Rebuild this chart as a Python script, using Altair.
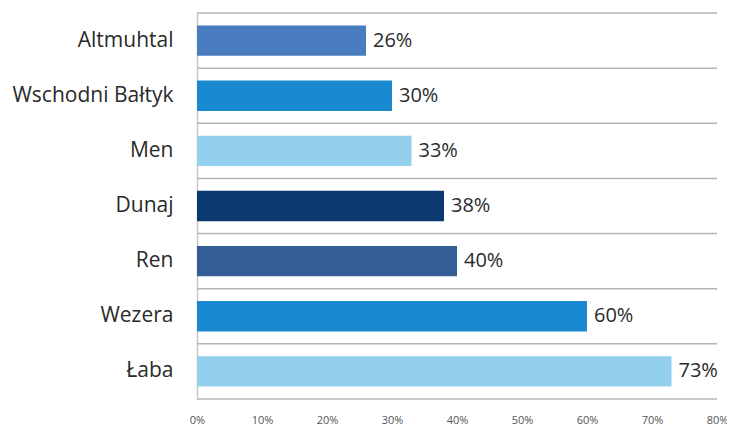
import altair as alt
import pandas as pd

categories = ["Altmuhtal", "Wschodni Bałtyk", "Men", "Dunaj", "Ren", "Wezera", "Łaba"]
values = [26, 30, 33, 38, 40, 60, 73]
colors = ["#4a7cc0", "#1a8ad0", "#93d0ee", "#0b3a70", "#345d98", "#1a8ad0", "#93d0ee"]
x_ticks = [0, 10, 20, 30, 40, 50, 60, 70, 80]
boundaries = list(range(len(categories) + 1))

df = pd.DataFrame({"cat": categories, "val": values, "color": colors,
                   "label": [f"{v}%" for v in values]})
df_lines = pd.DataFrame({"b": boundaries})

W, H = 520, 386

y_enc = alt.Y("cat:N", sort=categories, title=None,
              scale=alt.Scale(paddingInner=0.45, paddingOuter=0.225),
              axis=alt.Axis(grid=False, ticks=False, domain=True, domainColor="#c8c8c8",
                            domainWidth=1.5, labelFont="Open Sans", labelFontSize=21,
                            labelColor="#2a2a2a", labelPadding=24))
x_enc = alt.X("val:Q", title=None,
              scale=alt.Scale(domain=[0, 80], nice=False),
              axis=alt.Axis(values=x_ticks, labelExpr="datum.value + '%'", grid=False,
                            ticks=False, domain=False, labelFlush=False,
                            labelFont="Open Sans", labelFontSize=11,
                            labelColor="#555555", labelPadding=15))

lines = alt.Chart(df_lines).mark_rule(color="#b4b4b4", strokeWidth=1.5).encode(
    y=alt.Y("b:Q", scale=alt.Scale(domain=[0, len(categories)], nice=False, zero=False),
            axis=None),
    x=alt.value(0), x2=alt.value(W)
)
bars = alt.Chart(df).mark_bar().encode(
    y=y_enc, x=x_enc, color=alt.Color("color:N", scale=None)
)
text = alt.Chart(df).mark_text(align="left", baseline="middle", dx=7, font="Open Sans",
                               fontSize=20, color="#2a2a2a").encode(
    y=alt.Y("cat:N", sort=categories), x="val:Q", text="label:N"
)

chart = alt.layer(lines, bars + text).resolve_scale(y="independent").properties(
    width=W, height=H,
    autosize=alt.AutoSizeParams(type="none"),
    padding={"left": 189, "top": 5, "right": 10, "bottom": 26}
).configure_view(stroke=None)
chart.save("out.html", embed_options={"renderer": "svg", "actions": False})
